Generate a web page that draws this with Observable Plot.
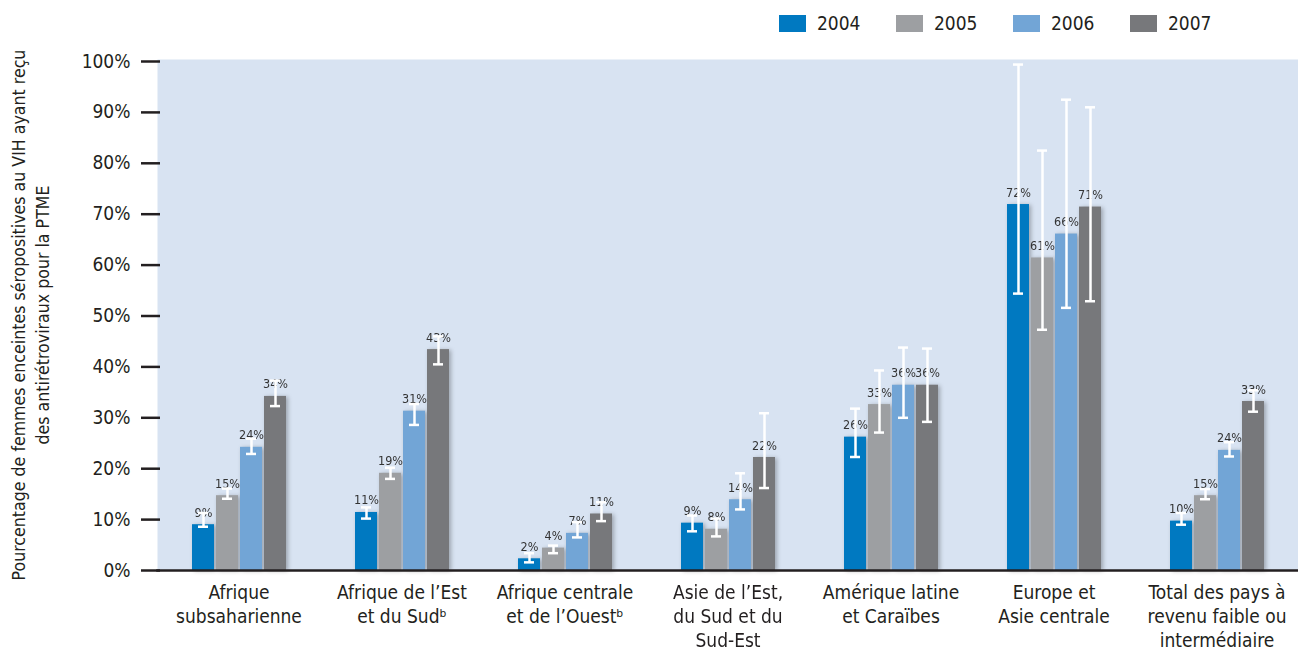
<!DOCTYPE html>
<html>
<head>
<meta charset="utf-8">
<script src="https://cdn.jsdelivr.net/npm/d3@7"></script>
<script src="https://cdn.jsdelivr.net/npm/@observablehq/plot@0.6"></script>
<style>
  html, body { margin: 0; padding: 0; background: #fff; }
  body { width: 1298px; height: 655px; position: relative; overflow: hidden;
         font-family: "DejaVu Sans Condensed", "Liberation Sans", sans-serif; color: #231f20; }
  #legend { position: absolute; left: 779px; top: 12px; height: 22px; display: flex; }
  .item { display: flex; align-items: center; width: 117px; font-size: 19px; }
  .sw { width: 27px; height: 17px; margin-right: 11px; }
  #chart { position: absolute; left: 0; top: 45px; }
  #chart svg { overflow: visible; }
</style>
</head>
<body>
<div id="legend"></div>
<div id="chart"></div>
<script>
const groups = [
  "Afrique\nsubsaharienne",
  "Afrique de l’Est\net du Sudᵇ",
  "Afrique centrale\net de l’Ouestᵇ",
  "Asie de l’Est,\ndu Sud et du\nSud-Est",
  "Amérique latine\net Caraïbes",
  "Europe et\nAsie centrale",
  "Total des pays à\nrevenu faible ou\nintermédiaire"
];
const years = ["2004", "2005", "2006", "2007"];
const colors = ["#0079c1", "#9d9fa2", "#72a5d6", "#77787b"];

const v2004 = [9.0, 11.4, 2.3, 9.3, 26.2, 71.9, 9.7];
const v2005 = [14.7, 19.1, 4.4, 8.1, 32.6, 61.4, 14.7];
const v2006 = [24.2, 31.3, 7.3, 13.9, 36.4, 66.1, 23.6];
const v2007 = [34.2, 43.4, 11.1, 22.2, 36.4, 71.4, 33.2];

const lo2004 = [8.6, 10.2, 1.6, 7.7, 22.3, 54.4, 9.0];
const hi2004 = [11.3, 12.4, 3.4, 10.8, 31.8, 99.4, 11.3];
const lo2005 = [14.1, 18.0, 3.4, 6.7, 27.1, 47.3, 14.0];
const hi2005 = [16.1, 20.2, 4.9, 10.2, 39.3, 82.5, 16.0];
const lo2006 = [22.9, 28.6, 6.5, 12.0, 30.0, 51.6, 22.4];
const hi2006 = [25.9, 32.7, 9.5, 19.1, 43.8, 92.5, 25.2];
const lo2007 = [32.3, 40.5, 9.7, 16.2, 29.2, 52.9, 31.2];
const hi2007 = [37.3, 46.0, 13.4, 30.9, 43.6, 91.0, 35.4];

const yTicks = [0, 10, 20, 30, 40, 50, 60, 70, 80, 90, 100];
const yTitle = "Pourcentage de femmes enceintes séropositives au VIH ayant reçu\ndes antirétroviraux pour la PTME";

const values = [v2004, v2005, v2006, v2007];
const los = [lo2004, lo2005, lo2006, lo2007];
const his = [hi2004, hi2005, hi2006, hi2007];
const data = [];
groups.forEach((g, gi) => years.forEach((y, yi) => data.push({
  group: g, year: y, value: values[yi][gi], lo: los[yi][gi], hi: his[yi][gi]
})));

// legend
const legend = document.getElementById("legend");
years.forEach((y, i) => {
  const it = document.createElement("div");
  it.className = "item";
  it.innerHTML = `<div class="sw" style="background:${colors[i]}"></div><span>${y}</span>`;
  legend.appendChild(it);
});

const ink = "#231f20";
const plot = Plot.plot({
  width: 1298,
  height: 610,
  marginLeft: 139,
  marginRight: 4,
  marginTop: 14,
  marginBottom: 85,
  style: { fontFamily: "'DejaVu Sans Condensed', 'Liberation Sans', sans-serif", fontSize: "19px", color: ink, background: "transparent", overflow: "visible" },
  fx: { domain: groups, range: [155, 1299], padding: 0, label: null },
  x: { domain: years, paddingInner: 0.1, paddingOuter: 1.4, axis: null },
  y: { domain: [0, 100], insetTop: 2, axis: null },
  color: { domain: years, range: colors },
  marks: [
    Plot.frame({ facet: "super", fill: "#d8e3f2", stroke: null }),
    Plot.axisY({ ticks: yTicks, tickSize: 0, tickPadding: 27, tickFormat: d => d + "%", fill: ink, label: null }),
    Plot.axisY({ ticks: yTicks, text: null, tickSize: 19, dx: 3, stroke: ink, strokeWidth: 2.5, label: null }),
    Plot.barY(data, { fx: "group", x: "year", y: "value", fill: "year" }),
    Plot.text(data, { fx: "group", x: "year", y: "value", text: d => Math.round(d.value) + "%", lineAnchor: "bottom", dy: -8, fontSize: 12.5, fill: "#333" }),
    Plot.ruleX(data, { fx: "group", x: "year", y1: "lo", y2: "hi", stroke: "white", strokeWidth: 2.5 }),
    Plot.tickY(data, { fx: "group", x: "year", y: "lo", stroke: "white", strokeWidth: 2.5, insetLeft: 6, insetRight: 6 }),
    Plot.tickY(data, { fx: "group", x: "year", y: "hi", stroke: "white", strokeWidth: 2.5, insetLeft: 6, insetRight: 6 }),
    Plot.frame({ facet: "super", anchor: "bottom", stroke: ink, strokeWidth: 2.5, insetRight: -4 }),
    Plot.axisFx({ anchor: "bottom", tickSize: 0, tickPadding: 12, lineHeight: 1.25, fill: ink, label: null }),
    Plot.text([yTitle], { facet: "super", frameAnchor: "left", textAnchor: "middle", rotate: -90, dx: -128, fontSize: 17.6, lineHeight: 1.36, fill: ink })
  ]
});

d3.select(plot).selectAll('g[aria-label="bar"]').style("filter", "drop-shadow(2px 1px 2px rgba(0,0,0,0.28))");
document.getElementById("chart").appendChild(plot);
</script>
</body>
</html>
